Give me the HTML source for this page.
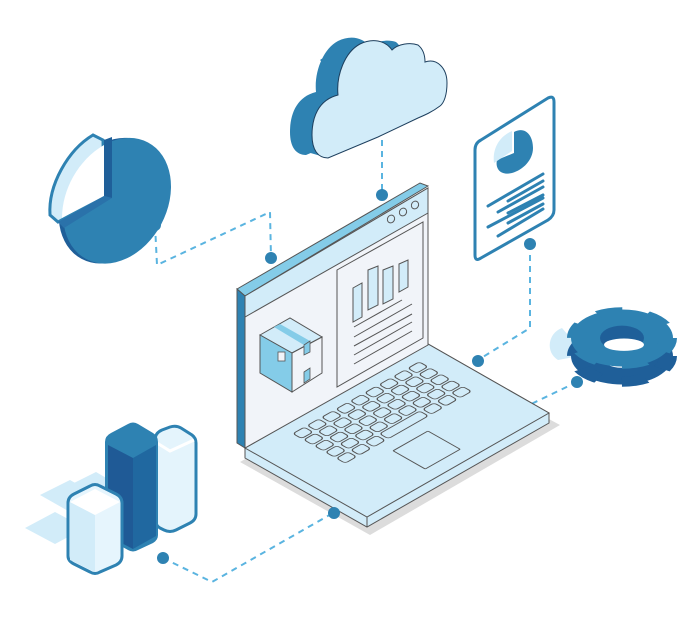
<!DOCTYPE html>
<html><head><meta charset="utf-8"><style>html,body{margin:0;padding:0;background:#fff;width:692px;height:625px;overflow:hidden}</style></head>
<body>
<svg width="692" height="625" viewBox="0 0 692 625" xmlns="http://www.w3.org/2000/svg">
<defs>
<path id="cl" d="M328 158 C318 158 312 150 312 135 C312 118 318 100 338 95 C336 75 345 52 360 44 C372 38 385 40 392 50 C398 44 410 42 418 45 C423 49 425 55 425 62 C437 58 447 68 447 83 C447 95 444 103 440 106 C432 112 425 115 418 118 L378 137 Z"/>
</defs>
<!-- connectors -->
<g fill="none" stroke="#5ab4e0" stroke-width="2" stroke-dasharray="6 5">
<path d="M382 140 V195"/>
<path d="M155 225 L157 265 L270 212 L271 258"/>
<path d="M530 244 V328 L478 360"/>
<path d="M577 382 L525 407"/>
<path d="M163 558 L212 582 L333 513"/>
</g>
<!-- cloud -->
<use href="#cl" x="-22" y="-3" fill="#2e82b2"/>
<path d="M300 150 L328 158 L340 135 L330 100 L310 95 Z M330 70 L360 44 L350 40 L320 60 Z" fill="#2e82b2"/>
<use href="#cl" fill="#d2ecf9" stroke="#1d3f5e" stroke-width="1"/>
<!-- pie chart -->
<g transform="translate(110,197) rotate(28)">
<ellipse cx="4" cy="2" rx="50" ry="66" fill="#1f5f99"/>
<ellipse cx="8" cy="0" rx="50" ry="66" fill="#2e82b2"/>
</g>
<path d="M50 215 C48 185 68 150 93 135 L103 140 L104 196 L58 222 Z" fill="#d2ecf9" stroke="#2e82b2" stroke-width="3"/>
<path d="M62 218 C62 190 78 160 104 145 L104 196 Z" fill="#fff"/>
<path d="M104 140 L112 137 L112 198 L104 196 Z" fill="#1f5f99"/>
<path d="M58 222 L104 196 L112 198 L64 228 Z" fill="#2a72aa"/>
<!-- document -->
<path d="M475 150 Q475 143 481 140 L548 98 Q554 95 554 102 L554 210 Q554 216 548 220 L481 258 Q475 262 475 255 Z" fill="#fff" stroke="#2e82b2" stroke-width="3"/>
<path d="M514 132 C525 126 533 135 533 148 C533 160 523 170 512 173 C500 176 495 168 497 160 L514 153 Z" fill="#2e82b2"/>
<path d="M512 131 L512 151 L494 163 C492 148 500 136 512 131 Z" fill="#d2ecf9"/>
<g stroke="#2e82b2" stroke-width="3" stroke-linecap="round">
<line x1="488" y1="206" x2="543" y2="174"/><line x1="508" y1="201" x2="543" y2="181"/>
<line x1="498" y1="212" x2="543" y2="187"/><line x1="508" y1="213" x2="543" y2="195"/>
<line x1="488" y1="227" x2="543" y2="198"/><line x1="508" y1="223" x2="543" y2="204"/>
<line x1="498" y1="236" x2="543" y2="209"/>
</g>
<!-- gear -->
<path d="M562 328 C548 333 545 352 558 360 L585 355 Z" fill="#d2ecf9"/>
<g transform="translate(622,356) scale(1,0.56)">
<circle r="36" fill="none" stroke="#1f5f99" stroke-width="30"/>
<circle r="46" fill="none" stroke="#1f5f99" stroke-width="18" stroke-dasharray="24 24.17" stroke-linejoin="round"/>
</g>
<rect x="572" y="338" width="100" height="18" fill="#1f5f99"/>
<g transform="translate(622,338) scale(1,0.56)">
<circle r="36" fill="none" stroke="#2e82b2" stroke-width="30"/>
<circle r="46" fill="none" stroke="#2e82b2" stroke-width="18" stroke-dasharray="24 24.17"/>
<ellipse rx="22" ry="22" fill="#1f5f99"/>
<ellipse cx="2" cy="12" rx="20" ry="11" fill="#fff"/>
</g>
<!-- bar chart -->
<path d="M40 495 L70 480 L100 497 L70 512 Z M25 528 L55 512 L85 528 L55 544 Z" fill="#d2ecf9"/>
<path d="M66 487 L96 472 L120 486 L90 500 Z" fill="#d2ecf9"/>
<path d="M155 440 Q155 433 162 430 L170 427 Q176 425 181 428 L192 435 Q196 438 196 443 L196 514 Q196 520 190 523 L176 530 Q170 533 164 530 L160 528 Q155 525 155 519 Z" fill="#e4f4fc" stroke="#2e82b2" stroke-width="3"/>
<path d="M157 443 L170 451 L194 440" fill="none" stroke="#fff" stroke-width="3"/>
<path d="M105 442 Q105 436 111 433 L128 424 Q133 421 138 424 L153 433 Q158 436 158 442 L158 535 Q158 540 153 543 L138 550 Q133 553 128 550 L110 540 Q105 537 105 532 Z" fill="#2e82b2"/>
<path d="M108 445 L133 458 L133 549 L108 536 Z" fill="#1f5a96"/>
<path d="M133 458 L156 445 L156 536 L133 549 Z" fill="#2068a0"/>
<path d="M68 503 Q68 497 74 494 L90 486 Q95 483 100 486 L116 494 Q122 497 122 503 L122 556 Q122 562 116 565 L100 572 Q95 575 90 572 L74 564 Q68 561 68 556 Z" fill="#e6f5fd" stroke="#2e82b2" stroke-width="3"/>
<path d="M70 502 L95 515 L95 572 L70 560 Z" fill="#d2ecf9"/>
<path d="M70 502 L95 489 L120 502 L95 515 Z" fill="#fff"/>
<!-- laptop shadow -->
<path d="M240 462 L430 355 L560 425 L370 535 Z" fill="#dcdcdc"/>
<!-- base -->
<path d="M245 448 L428 344 L549 413 L549 423 L367 527 L245 458 Z" fill="#d2ecf9" stroke="#555" stroke-width="1"/>
<path d="M245 448 L428 344 L549 413 L367 517 Z" fill="#d2ecf9" stroke="#555" stroke-width="1"/>
<line x1="367" y1="517" x2="367" y2="527" stroke="#555"/>
<g transform="matrix(0.871,-0.495,0.871,0.493,245,448)" fill="none" stroke="#555" stroke-width="1.1">
<g id="row"><rect x="42" y="13" width="13" height="10" rx="3"/><rect x="58.5" y="13" width="13" height="10" rx="3"/><rect x="75" y="13" width="13" height="10" rx="3"/><rect x="91.5" y="13" width="13" height="10" rx="3"/><rect x="108" y="13" width="13" height="10" rx="3"/><rect x="124.5" y="13" width="13" height="10" rx="3"/><rect x="141" y="13" width="13" height="10" rx="3"/><rect x="157.5" y="13" width="13" height="10" rx="3"/><rect x="174" y="13" width="13" height="10" rx="3"/></g>
<use href="#row" y="12.5"/><use href="#row" y="25"/><use href="#row" y="37.5"/>
<rect x="42" y="63" width="13" height="10" rx="3"/><rect x="58.5" y="63" width="13" height="10" rx="3"/><rect x="75" y="63" width="13" height="10" rx="3"/><rect x="91.5" y="63" width="46" height="10" rx="3"/><rect x="141" y="63" width="13" height="10" rx="3"/><rect x="157.5" y="63" width="13" height="10" rx="3"/><rect x="174" y="63" width="13" height="10" rx="3"/>
<rect x="82" y="88" width="40" height="37" rx="1"/>
</g>
<!-- screen -->
<path d="M237 289 L420 183 L428 186 L245 296 Z" fill="#84cce8" stroke="#555" stroke-width="1"/>
<path d="M237 289 L245 296 L245 448 L237 443 Z" fill="#2e82b2" stroke="#555" stroke-width="1"/>
<path d="M245 296 L428 188 L428 345 L245 448 Z" fill="#f1f4f9" stroke="#555" stroke-width="1"/>
<path d="M245 296 L428 188 L428 213 L245 317 Z" fill="#d2ecf9" stroke="#555" stroke-width="1"/>
<g fill="none" stroke="#555" stroke-width="1"><ellipse cx="391" cy="219" rx="3.5" ry="4" transform="rotate(30 391 219)"/><ellipse cx="403" cy="212" rx="3.5" ry="4" transform="rotate(30 403 212)"/><ellipse cx="415" cy="205" rx="3.5" ry="4" transform="rotate(30 415 205)"/></g>
<path d="M337 270 L423 222 L423 338 L337 387 Z" fill="#f1f4f9" stroke="#555" stroke-width="1"/>
<g fill="#d2ecf9" stroke="#555" stroke-width="1">
<path d="M353 288 L362 283 L362 317 L353 322 Z"/><path d="M368 270 L378 266 L378 305 L368 310 Z"/><path d="M383 270 L393 266 L393 299 L383 304 Z"/><path d="M399 264 L408 260 L408 287 L399 292 Z"/>
</g>
<g stroke="#555" stroke-width="1"><line x1="354" y1="327" x2="402" y2="300"/><line x1="354" y1="337" x2="412" y2="304"/><line x1="354" y1="346" x2="412" y2="314"/><line x1="354" y1="355" x2="412" y2="322"/><line x1="354" y1="364" x2="412" y2="331"/></g>
<!-- box -->
<path d="M260 335 L290 318 L322 337 L292 353 Z" fill="#d2ecf9" stroke="#555" stroke-width="1"/>
<path d="M260 335 L292 353 L292 392 L260 373 Z" fill="#84cce8" stroke="#555" stroke-width="1"/>
<path d="M292 353 L322 337 L322 373 L292 392 Z" fill="#f1f4f9" stroke="#555" stroke-width="1"/>
<path d="M274 327 L280 324 L310 341 L304 345 Z" fill="#84cce8"/>
<path d="M304 345 L310 341 L310 352 L304 355 Z M304 372 L310 368 L310 379 L304 383 Z" fill="#84cce8" stroke="#555" stroke-width="0.8"/>
<rect x="278" y="352" width="7" height="9" fill="#f1f4f9" stroke="#555" stroke-width="0.8"/>
<!-- dots -->
<g fill="#2e82b2"><circle cx="382" cy="195" r="6"/><circle cx="155" cy="225" r="6"/><circle cx="271" cy="258" r="6"/><circle cx="530" cy="244" r="6"/><circle cx="478" cy="361" r="6"/><circle cx="577" cy="382" r="6"/><circle cx="163" cy="558" r="6"/><circle cx="334" cy="513" r="6"/></g>
</svg>
</body></html>
